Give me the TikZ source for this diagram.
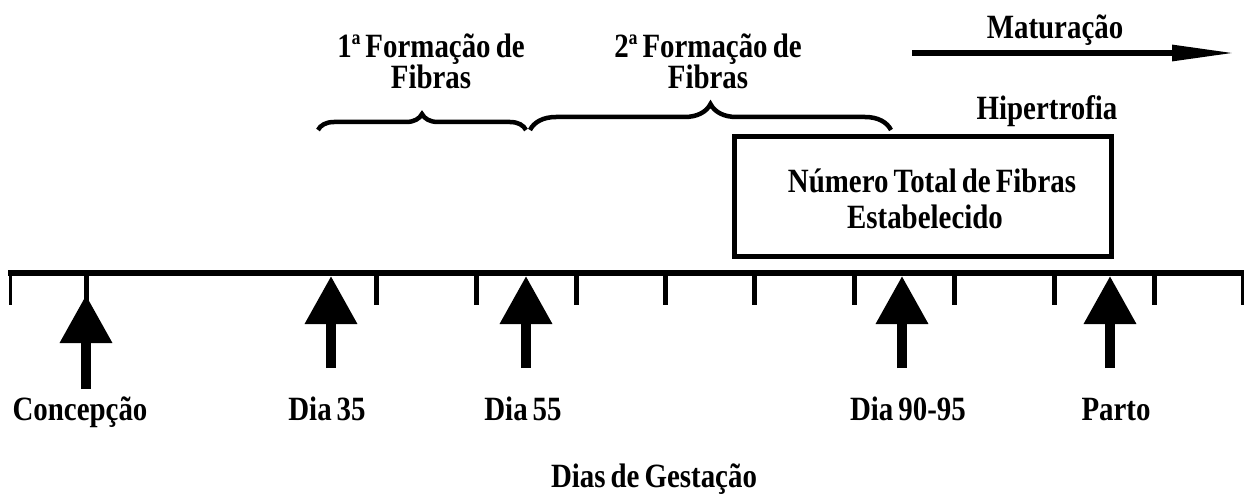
\documentclass[tikz,border=0pt]{standalone}
\usepackage{fontspec}
\setmainfont{Liberation Serif}[FakeStretch=0.85, WordSpace=0.7]
\usetikzlibrary{arrows.meta,decorations.pathreplacing}
\tikzset{
  lbl/.style={font=\bfseries\fontsize{34}{36}\selectfont, inner sep=0pt, anchor=base},
  tickline/.style={line width=5pt},
  endtick/.style={line width=3pt},
  uparrow/.style={line width=10pt, -{Triangle[length=48pt,width=50pt]}},
  matarrow/.style={line width=6pt, -{Triangle[length=64pt,width=15pt]}},
  bracestyle/.style={line width=4.5pt, decorate},
  boxstyle/.style={draw, line width=5pt}
}
\begin{document}
\begin{tikzpicture}[x=1pt,y=-1pt]
\useasboundingbox (0,0) rectangle (1247,497);
% timeline
\coordinate (tlL) at (8,273);
\coordinate (tlR) at (1244,273);
\draw[line width=6pt] (tlL) -- (tlR);
% end ticks
\coordinate (e1a) at (10,273); \coordinate (e1b) at (10,305);
\coordinate (e2a) at (1242,273); \coordinate (e2b) at (1242,305);
\draw[endtick] (e1a) -- (e1b);
\draw[endtick] (e2a) -- (e2b);
% ticks
\foreach \x [count=\i] in {86,376,476,576,665,754,854,954,1054,1154}{
  \coordinate (t\i a) at (\x,273);
  \coordinate (t\i b) at (\x,305);
  \draw[tickline] (t\i a) -- (t\i b);
}
% up arrows
\coordinate (a0s) at (86,389); \coordinate (a0t) at (86,295);
\draw[uparrow] (a0s) -- (a0t);
\foreach \x [count=\i] in {331,526,902,1110}{
  \coordinate (a\i s) at (\x,368);
  \coordinate (a\i t) at (\x,276);
  \draw[uparrow] (a\i s) -- (a\i t);
}
% bottom labels
\node[lbl] (conc) at (80,420) {Concepção};
\node[lbl] (d35) at (327,420) {Dia 35};
\node[lbl] (d55) at (523,420) {Dia 55};
\node[lbl] (d90) at (908,420) {Dia 90-95};
\node[lbl] (parto) at (1116,420) {Parto};
\node[lbl] (dias) at (654,487) {Dias de Gestação};
% box
\node[boxstyle, minimum width=377pt, minimum height=119pt, inner sep=0pt] (box) at (922.5,196.5) {};
\node[lbl] (num1) at (932,193) {Número Total de Fibras};
\node[lbl] (num2) at (925,229) {Estabelecido};
% braces
\coordinate (b1L) at (318,130); \coordinate (b1R) at (526,130);
\draw[bracestyle, decoration={brace, amplitude=16pt}] (b1L) -- (b1R);
\coordinate (b2L) at (530,130); \coordinate (b2R) at (891,130);
\draw[bracestyle, decoration={brace, amplitude=26pt}] (b2L) -- (b2R);
% top labels
\node[lbl] (f1a) at (431,58) {1ª Formação de};
\node[lbl] (f1b) at (431,89) {Fibras};
\node[lbl] (f2a) at (708,58) {2ª Formação de};
\node[lbl] (f2b) at (708,89) {Fibras};
\node[lbl] (mat) at (1055,39) {Maturação};
\node[lbl] (hip) at (1047,120) {Hipertrofia};
% maturation arrow
\coordinate (mA) at (912,53); \coordinate (mB) at (1236,53);
\draw[matarrow] (mA) -- (mB);
\end{tikzpicture}
\end{document}
